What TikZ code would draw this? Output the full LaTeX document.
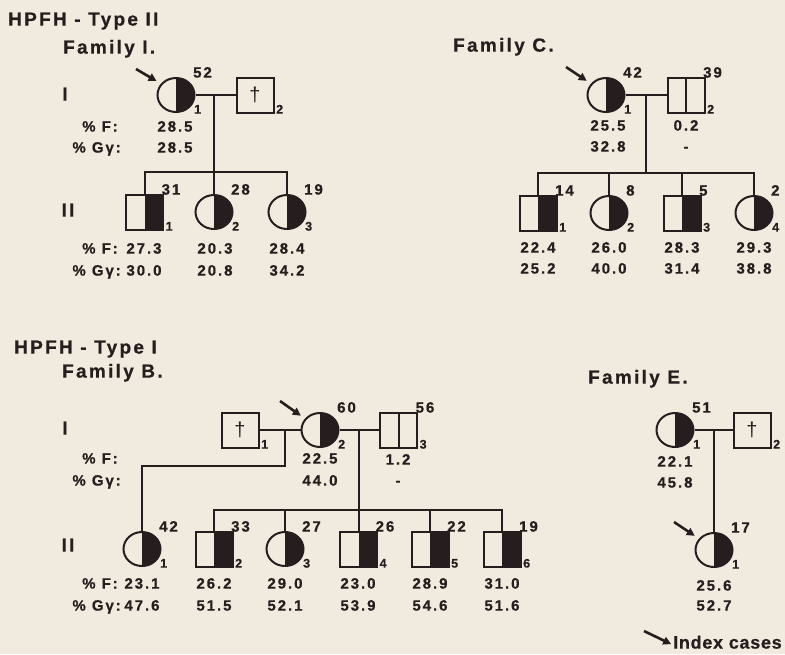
\documentclass[tikz,border=0pt]{standalone}
\usepackage{fontspec}
\setmainfont{Liberation Sans}
\usetikzlibrary{calc,arrows.meta,shapes.geometric}
\definecolor{paper}{RGB}{241,234,223}
\definecolor{ink}{RGB}{38,30,30}
\newfontfamily\numfont{Liberation Sans Bold}[LetterSpace=13,FakeBold=0.6]
\newfontfamily\headfont{Liberation Sans Bold}[LetterSpace=12,FakeBold=0.6]
\newfontfamily\keyfont{Liberation Sans Bold}[LetterSpace=4,FakeBold=0.6]
\newfontfamily\crossfont{Liberation Sans}

% horizontal offset of the individual's number, per symbol style
\newcommand{\femAoff}{18}
\newcommand{\malAoff}{21}
\newcommand{\malNoff}{21}

% one individual: style, name, position, age, number
\newcommand{\pedind}[5]{%
  \node[#1] (#2) at (#3) {};
  \node[age] (#2-age) at ($(#2)+(17,-21)$) {#4};
  \node[sub] (#2-no) at ($(#2)+(\csname #1off\endcsname,15)$) {#5};
}

\tikzset{
  x=1pt, y=-1pt,
  line/.style={draw=ink, line width=2pt},
  txt/.style={text=ink, inner sep=0pt, text height=0.72em, text depth=0pt},
  head/.style={txt, anchor=west, font=\headfont\fontsize{19}{22}\selectfont},
  gen/.style={txt, font=\headfont\fontsize{19}{22}\selectfont},
  val/.style={txt, font=\numfont\fontsize{15}{18}\selectfont},
  rowlab/.style={val, anchor=east},
  age/.style={txt, anchor=west, font=\numfont\fontsize{15}{18}\selectfont},
  sub/.style={txt, anchor=west, font=\numfont\fontsize{12.5}{14}\selectfont},
  halffill/.style={path picture={\fill[ink] (path picture bounding box.north) rectangle (path picture bounding box.south east);}},
  symb/.style={draw=ink, fill=paper, line width=2pt, inner sep=0pt},
  femA/.style={symb, ellipse, minimum width=37pt, minimum height=34pt, halffill},
  malA/.style={symb, rectangle, minimum width=37pt, minimum height=35pt, halffill},
  malN/.style={symb, rectangle, minimum width=37pt, minimum height=35pt,
    path picture={\draw[ink, line width=2pt] (path picture bounding box.north) -- (path picture bounding box.south);}},
  malD/.style={symb, rectangle, minimum width=37pt, minimum height=35pt,
    font=\crossfont\fontsize{20}{22}\selectfont, text=ink},
  idx/.style={draw=ink, line width=2.6pt, -{Triangle[length=8pt,width=8pt]}, shorten >=5pt},
}

\begin{document}
\begin{tikzpicture}
\useasboundingbox (0,0) rectangle (785,654);
\fill[paper] (0,0) rectangle (785,654);

% ---------------- HPFH type II, family I ----------------
\node[head] (t2) at (8,22) {HPFH - Type II};
\node[head] (famI) at (63,50) {Family I.};
\node[gen] (fI-g1) at (65,97) {I};
\node[gen] (fI-g2) at (68,213) {II};
\node[rowlab] (fI-f1) at (118,128) {\% F:};
\node[rowlab] (fI-g1l) at (121,149) {\% Gγ:};
\node[rowlab] (fI-f2) at (118,250) {\% F:};
\node[rowlab] (fI-g2l) at (121,272) {\% Gγ:};

\pedind{femA}{I1}{176,95}{52}{1}
\node[malD] (I2) at (255,95) {†};
\node[sub] (I2-no) at ($(I2)+(21,15)$) {2};
\pedind{malA}{I3}{144.5,212}{31}{1}
\pedind{femA}{I4}{214,212}{28}{2}
\pedind{femA}{I5}{287,212}{19}{3}

\coordinate (I-m) at (I4 |- I1);
\coordinate (I-s) at (214,172);
\draw[line] (I1.east) -- (I2.west);
\draw[line] (I-m) -- (I-s);
\draw[line] (I3.north) -- (I3.north |- I-s) -- (I5.north |- I-s) -- (I5.north);
\draw[line] (I4.north) -- (I4.north |- I-s);

\node[val] (I1-f) at (175,128) {28.5};
\node[val] (I1-g) at (175,149) {28.5};
\node[val] (I3-f) at (144,250) {27.3};
\node[val] (I3-g) at (144,272) {30.0};
\node[val] (I4-f) at (215,250) {20.3};
\node[val] (I4-g) at (215,272) {20.8};
\node[val] (I5-f) at (287,250) {28.4};
\node[val] (I5-g) at (287,272) {34.2};

\coordinate (I1-arr) at ($(I1)+(-40,-26)$);
\draw[idx] (I1-arr) -- (I1.143);

% ---------------- HPFH type II, family C ----------------
\node[head] (famC) at (453,48) {Family C.};
\pedind{femA}{C1}{606,95}{42}{1}
\pedind{malN}{C2}{686,95}{39}{2}
\pedind{malA}{C3}{538,213}{14}{1}
\pedind{femA}{C4}{609,213}{8}{2}
\pedind{malA}{C5}{682,213}{5}{3}
\pedind{femA}{C6}{754,213}{2}{4}

\coordinate (C-m) at (646,95);
\coordinate (C-s) at (646,173);
\draw[line] (C1.east) -- (C2.west);
\draw[line] (C-m) -- (C-s);
\draw[line] (C3.north) -- (C3.north |- C-s) -- (C6.north |- C-s) -- (C6.north);
\draw[line] (C4.north) -- (C4.north |- C-s);
\draw[line] (C5.north) -- (C5.north |- C-s);

\node[val] (C1-f) at (608,127) {25.5};
\node[val] (C1-g) at (608,148) {32.8};
\node[val] (C2-f) at (686,127) {0.2};
\node[val] (C2-g) at (686,148) {-};
\node[val] (C3-f) at (538,249) {22.4};
\node[val] (C3-g) at (538,270) {25.2};
\node[val] (C4-f) at (609,249) {26.0};
\node[val] (C4-g) at (609,270) {40.0};
\node[val] (C5-f) at (682,249) {28.3};
\node[val] (C5-g) at (682,270) {31.4};
\node[val] (C6-f) at (754,249) {29.3};
\node[val] (C6-g) at (754,270) {38.8};

\coordinate (C1-arr) at ($(C1)+(-40,-28)$);
\draw[idx] (C1-arr) -- (C1.143);

% ---------------- HPFH type I, family B ----------------
\node[head] (t1) at (14,350) {HPFH - Type I};
\node[head] (famB) at (62,374) {Family B.};
\node[gen] (fB-g1) at (65,431) {I};
\node[gen] (fB-g2) at (68,548) {II};
\node[rowlab] (fB-f1) at (118,460) {\% F:};
\node[rowlab] (fB-g1l) at (121,482) {\% Gγ:};
\node[rowlab] (fB-f2) at (118,585) {\% F:};
\node[rowlab] (fB-g2l) at (121,607) {\% Gγ:};

\node[malD] (B1) at (240,430) {†};
\node[sub] (B1-no) at ($(B1)+(21,15)$) {1};
\pedind{femA}{B2}{320,430}{60}{2}
\pedind{malN}{B3}{398.5,430}{56}{3}
\pedind{femA}{B4}{142,549}{42}{1}
\pedind{malA}{B5}{214,549}{33}{2}
\pedind{femA}{B6}{285,549}{27}{3}
\pedind{malA}{B7}{358.5,549}{26}{4}
\pedind{malA}{B8}{430,549}{22}{5}
\pedind{malA}{B9}{502,549}{19}{6}

\coordinate (B-m1) at (285,430);
\coordinate (B-k1) at (285,466);
\coordinate (B-m2) at (358.5,430);
\coordinate (B-s) at (358.5,510);
\draw[line] (B1.east) -- (B2.west);
\draw[line] (B2.east) -- (B3.west);
\draw[line] (B-m1) -- (B-k1) -- (B4.north |- B-k1) -- (B4.north);
\draw[line] (B-m2) -- (B7.north);
\draw[line] (B5.north) -- (B5.north |- B-s) -- (B9.north |- B-s) -- (B9.north);
\draw[line] (B6.north) -- (B6.north |- B-s);
\draw[line] (B8.north) -- (B8.north |- B-s);

\node[val] (B2-f) at (320,460) {22.5};
\node[val] (B2-g) at (320,482) {44.0};
\node[val] (B3-f) at (398,461) {1.2};
\node[val] (B3-g) at (398,482) {-};
\node[val] (B4-f) at (142,585) {23.1};
\node[val] (B4-g) at (142,607) {47.6};
\node[val] (B5-f) at (214,585) {26.2};
\node[val] (B5-g) at (214,607) {51.5};
\node[val] (B6-f) at (285,585) {29.0};
\node[val] (B6-g) at (285,607) {52.1};
\node[val] (B7-f) at (358,585) {23.0};
\node[val] (B7-g) at (358,607) {53.9};
\node[val] (B8-f) at (430,585) {28.9};
\node[val] (B8-g) at (430,607) {54.6};
\node[val] (B9-f) at (502,585) {31.0};
\node[val] (B9-g) at (502,607) {51.6};

\coordinate (B2-arr) at ($(B2)+(-40,-29)$);
\draw[idx] (B2-arr) -- (B2.143);

% ---------------- HPFH type I, family E ----------------
\node[head] (famE) at (588,380) {Family E.};
\pedind{femA}{E1}{675,430}{51}{1}
\node[malD] (E2) at (752,430) {†};
\node[sub] (E2-no) at ($(E2)+(21,15)$) {2};
\pedind{femA}{E3}{714,550}{17}{1}

\coordinate (E-m) at (E3 |- E1);
\draw[line] (E1.east) -- (E2.west);
\draw[line] (E-m) -- (E3.north);

\node[val] (E1-f) at (675,463) {22.1};
\node[val] (E1-g) at (675,484) {45.8};
\node[val] (E3-f) at (714,587) {25.6};
\node[val] (E3-g) at (714,607) {52.7};

\coordinate (E3-arr) at ($(E3)+(-40,-28)$);
\draw[idx] (E3-arr) -- (E3.143);

% ---------------- key ----------------
\node[txt, anchor=west, font=\keyfont\fontsize{18}{21}\selectfont] (key) at (673,645) {Index cases};
\coordinate (key-arr) at (644,631);
\draw[idx, shorten >=2pt] (key-arr) -- (key.west);
\end{tikzpicture}
\end{document}
